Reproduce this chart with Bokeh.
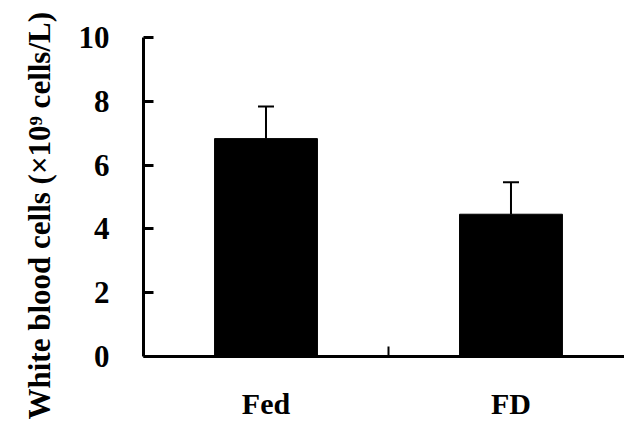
from bokeh.plotting import figure
from bokeh.models import ColumnDataSource, Range1d, FixedTicker, Whisker, TeeHead, Title
from bokeh.embed import file_html
from bokeh.resources import INLINE

# ---- data ----
categories = ["Fed", "FD"]
wbc_mean = [6.83, 4.46]
wbc_sem = [1.01, 1.00]
y_ticks = [0, 2, 4, 6, 8, 10]
y_label = "White blood cells (\u00d710\u2079 cells/L)"

FONT = "Liberation Serif"

x_pos = [i + 0.5 for i in range(len(categories))]
upper = [m + e for m, e in zip(wbc_mean, wbc_sem)]

src = ColumnDataSource(dict(x=x_pos, top=wbc_mean, upper=upper))

W, H = 624, 422
left, top_b, bottom_b = 142, 37, 65
px_per_unit = 245.5

p = figure(width=W, height=H, output_backend="svg", toolbar_location=None,
           x_range=Range1d(0, (W - left) / px_per_unit), y_range=Range1d(0, 10),
           min_border_left=left, min_border_right=0, min_border_top=top_b,
           min_border_bottom=bottom_b)
p.outline_line_color = None
p.grid.visible = False
p.background_fill_color = "white"
p.border_fill_color = "white"

p.vbar(x="x", top="top", width=0.42, bottom=0, source=src,
       fill_color="black", line_color="black")

w = Whisker(base="x", lower="top", upper="upper", source=src, dimension="height",
            line_color="black", line_width=2, lower_head=None,
            upper_head=TeeHead(size=16, line_color="black", line_width=2))
p.add_layout(w)

# y axis
ya = p.yaxis[0]
ya.ticker = FixedTicker(ticks=y_ticks)
ya.bounds = (0, 10)
ya.axis_line_width = 3
ya.major_tick_line_width = 3
ya.major_tick_in = 10
ya.major_tick_out = 0
ya.minor_tick_line_color = None
ya.major_label_standoff = 34
ya.major_label_text_font = FONT
ya.major_label_text_font_style = "bold"
ya.major_label_text_font_size = "31px"
ya.major_label_text_color = "black"

# y axis title as a left-side title (allows shifting along the axis)
ytitle = Title(text=y_label, align="left", vertical_align="bottom",
               offset=-63, standoff=38, text_font=FONT, text_font_style="bold",
               text_font_size="31px", text_color="black")
p.add_layout(ytitle, "left")

# x axis: category labels at centres, divider tick between categories
xa = p.xaxis[0]
tick_pos = sorted(x_pos + [1.0])
xa.ticker = FixedTicker(ticks=tick_pos)
overrides = {xp: c for xp, c in zip(x_pos, categories)}
overrides[1.0] = ""
xa.major_label_overrides = overrides
xa.axis_line_width = 3
xa.major_tick_line_width = 2
xa.major_tick_in = 10
xa.major_tick_out = 0
xa.minor_tick_line_color = None
xa.major_label_standoff = 30
xa.major_label_text_font = FONT
xa.major_label_text_font_style = "bold"
xa.major_label_text_font_size = "30px"
xa.major_label_text_color = "black"

open("out.html", "w").write(file_html(p, INLINE))
